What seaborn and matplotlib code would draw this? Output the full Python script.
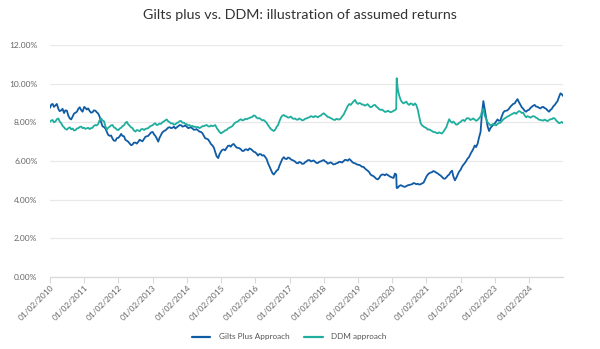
import pandas as pd
import numpy as np
import matplotlib
matplotlib.use("Agg")
import matplotlib.pyplot as plt
import matplotlib.dates as mdates
from matplotlib.ticker import FuncFormatter
import seaborn as sns

title = "Gilts plus vs. DDM: illustration of assumed returns"
series_names = ["Gilts Plus Approach", "DDM approach"]
colors = ["#0f5ba4", "#1fae9d"]
start_month = "2010-02-01"
x_end = "2025-01-28"

# readings at the start of each month (%), Feb 2010 .. Feb 2025
gilts = [8.75, 8.95, 8.88, 8.70, 8.62, 8.48, 8.60, 8.20, 8.30, 8.50,
         8.70, 8.62, 8.80, 8.66, 8.58, 8.52, 8.60, 8.45, 8.00, 7.75,
         7.50, 7.30, 7.15, 7.05, 7.20, 7.40, 7.28, 7.05, 6.90, 6.85,
         6.95, 7.00, 7.05, 7.15, 7.28, 7.40, 7.50, 7.30, 7.00, 7.35,
         7.55, 7.65, 7.75, 7.72, 7.68, 7.80, 7.85, 7.80, 7.76, 7.72,
         7.68, 7.62, 7.58, 7.50, 7.30, 7.15, 7.00, 6.80, 6.45, 6.15,
         6.50, 6.60, 6.68, 6.80, 6.85, 6.78, 6.68, 6.60, 6.52, 6.60,
         6.65, 6.55, 6.45, 6.28, 6.35, 6.30, 6.10, 5.72, 5.38, 5.40,
         5.55, 5.95, 6.20, 6.10, 6.15, 6.05, 5.97, 5.88, 5.92, 5.86,
         5.98, 6.05, 6.00, 5.96, 5.90, 5.98, 6.05, 5.95, 5.90, 5.88,
         5.84, 5.90, 5.95, 6.00, 6.05, 6.10, 5.95, 5.88, 5.80, 5.76,
         5.70, 5.55, 5.42, 5.25, 5.15, 5.05, 5.25, 5.30, 5.32, 5.22,
         5.15, 5.35, 4.62, 4.75, 4.68, 4.70, 4.76, 4.80, 4.84, 4.82,
         4.80, 4.88, 5.20, 5.36, 5.42, 5.45, 5.36, 5.25, 5.10, 5.15,
         5.30, 5.50, 5.00, 5.30, 5.55, 5.80, 6.00, 6.20, 6.50, 6.80,
         6.90, 7.50, 9.10, 8.20, 7.55, 7.80, 7.95, 8.15, 8.10, 8.50,
         8.60, 8.70, 8.88, 8.98, 9.20, 8.90, 8.70, 8.55, 8.65, 8.80,
         8.90, 8.80, 8.72, 8.80, 8.70, 8.55, 8.70, 8.90, 9.10, 9.50,
         9.35]

# readings at mid-month (%), Feb 2010 .. Jan 2025
gilts_mid = [8.92, 8.80, 8.95, 8.58, 8.70, 8.62, 8.35, 8.15, 8.45, 8.55,
             8.78, 8.55, 8.74, 8.72, 8.50, 8.62, 8.52, 8.30, 7.80, 7.68,
             7.35, 7.32, 7.05, 7.18, 7.28, 7.30, 7.10, 7.00, 6.82, 6.95,
             6.90, 7.10, 7.02, 7.25, 7.30, 7.48, 7.38, 7.18, 7.20, 7.48,
             7.58, 7.72, 7.70, 7.78, 7.74, 7.86, 7.78, 7.84, 7.70, 7.75,
             7.62, 7.65, 7.52, 7.45, 7.18, 7.12, 6.88, 6.70, 6.25, 6.35,
             6.58, 6.55, 6.78, 6.74, 6.88, 6.70, 6.66, 6.52, 6.60, 6.55,
             6.62, 6.48, 6.38, 6.36, 6.28, 6.22, 5.90, 5.55, 5.30, 5.50,
             5.75, 6.10, 6.12, 6.18, 6.08, 6.02, 5.90, 5.95, 5.85, 5.93,
             6.04, 5.98, 6.03, 5.90, 5.96, 6.02, 5.98, 5.86, 5.93, 5.82,
             5.88, 5.96, 5.92, 6.06, 6.02, 6.04, 5.90, 5.84, 5.80, 5.70,
             5.62, 5.50, 5.30, 5.22, 5.08, 5.12, 5.30, 5.26, 5.28, 5.18,
             5.12, 5.30, 4.70, 4.72, 4.66, 4.74, 4.78, 4.86, 4.80, 4.78,
             4.84, 5.02, 5.30, 5.40, 5.48, 5.40, 5.30, 5.18, 5.08, 5.24,
             5.42, 5.20, 5.12, 5.45, 5.70, 5.88, 6.12, 6.35, 6.62, 6.72,
             7.20, 8.40, 8.70, 7.80, 7.70, 7.88, 8.05, 8.08, 8.30, 8.58,
             8.62, 8.80, 8.95, 9.10, 9.05, 8.78, 8.60, 8.62, 8.74, 8.86,
             8.82, 8.76, 8.78, 8.74, 8.62, 8.64, 8.82, 9.00, 9.30, 9.45]

ddm = [8.03, 8.12, 8.05, 8.20, 7.95, 7.74, 7.62, 7.74, 7.68, 7.60,
       7.70, 7.78, 7.72, 7.69, 7.65, 7.72, 7.86, 7.92, 8.20, 8.05,
       7.62, 7.78, 7.86, 7.70, 7.60, 7.72, 7.85, 8.03, 7.82, 7.70,
       7.52, 7.58, 7.64, 7.60, 7.68, 7.78, 7.85, 7.95, 7.88, 7.92,
       8.05, 8.15, 8.00, 7.95, 7.90, 8.00, 8.07, 7.98, 7.90, 7.86,
       7.82, 7.78, 7.76, 7.74, 7.80, 7.86, 7.78, 7.80, 7.86, 7.60,
       7.43, 7.52, 7.60, 7.72, 7.80, 7.98, 8.05, 8.16, 8.12, 8.16,
       8.22, 8.28, 8.33, 8.20, 8.16, 8.12, 7.98, 7.75, 7.60, 7.62,
       7.86, 8.25, 8.38, 8.30, 8.26, 8.22, 8.20, 8.14, 8.16, 8.12,
       8.20, 8.26, 8.30, 8.33, 8.26, 8.35, 8.47, 8.35, 8.26, 8.18,
       8.12, 8.16, 8.20, 8.40, 8.70, 8.95, 9.00, 9.16, 8.95, 8.98,
       8.92, 8.90, 8.84, 8.81, 8.90, 8.75, 8.64, 8.60, 8.55, 8.56,
       8.55, 8.62, 9.70, 9.16, 8.98, 9.07, 8.90, 8.95, 8.98, 8.64,
       7.95, 7.78, 7.70, 7.64, 7.55, 7.50, 7.43, 7.45, 7.52, 7.75,
       8.16, 7.98, 7.95, 7.90, 8.02, 8.12, 8.18, 8.20, 8.16, 8.14,
       8.12, 8.30, 8.70, 8.16, 7.92, 7.88, 7.86, 7.92, 7.98, 8.15,
       8.25, 8.33, 8.42, 8.50, 8.52, 8.55, 8.50, 8.26, 8.28, 8.29,
       8.30, 8.20, 8.12, 8.09, 8.10, 8.12, 8.16, 8.20, 8.03, 7.98,
       7.95]

ddm_mid = [8.10, 8.00, 8.16, 8.05, 7.82, 7.66, 7.70, 7.64, 7.58, 7.68,
           7.76, 7.70, 7.66, 7.72, 7.70, 7.82, 7.84, 8.10, 8.10, 7.80,
           7.72, 7.84, 7.74, 7.62, 7.68, 7.80, 7.96, 7.90, 7.74, 7.58,
           7.60, 7.54, 7.66, 7.66, 7.70, 7.82, 7.92, 7.86, 7.94, 8.00,
           8.10, 8.06, 7.94, 7.88, 7.96, 8.06, 7.98, 7.92, 7.84, 7.80,
           7.76, 7.74, 7.70, 7.80, 7.84, 7.80, 7.84, 7.82, 7.72, 7.50,
           7.48, 7.58, 7.68, 7.75, 7.90, 8.02, 8.12, 8.10, 8.18, 8.20,
           8.26, 8.36, 8.24, 8.22, 8.10, 8.06, 7.86, 7.66, 7.55, 7.76,
           8.05, 8.34, 8.32, 8.24, 8.30, 8.18, 8.14, 8.20, 8.10, 8.18,
           8.24, 8.32, 8.26, 8.30, 8.32, 8.42, 8.40, 8.28, 8.22, 8.14,
           8.18, 8.14, 8.30, 8.55, 8.85, 8.90, 9.08, 9.02, 9.00, 8.92,
           8.86, 8.94, 8.78, 8.88, 8.82, 8.68, 8.66, 8.54, 8.60, 8.52,
           8.60, 8.70, 9.40, 9.05, 9.02, 8.96, 8.98, 8.88, 8.90, 8.30,
           7.85, 7.74, 7.62, 7.60, 7.50, 7.46, 7.48, 7.42, 7.62, 7.95,
           8.05, 8.04, 7.88, 7.98, 8.10, 8.06, 8.22, 8.12, 8.20, 8.08,
           8.20, 8.55, 8.35, 8.00, 7.84, 7.92, 7.84, 7.96, 8.06, 8.20,
           8.30, 8.38, 8.46, 8.44, 8.58, 8.48, 8.36, 8.32, 8.24, 8.32,
           8.24, 8.14, 8.10, 8.14, 8.06, 8.16, 8.22, 8.10, 7.96, 8.02]

# March 2020 spike reading
spike_date = "2020-03-20"
spike_gilts = 4.60
spike_ddm = 10.28

y_ticks = [0, 2, 4, 6, 8, 10, 12]

dates = pd.date_range(start_month, periods=len(gilts), freq="MS")
mid_dates = pd.date_range(start_month, periods=len(gilts_mid), freq="MS") + pd.Timedelta(days=14)
frames = [
    pd.DataFrame({"date": dates, series_names[0]: gilts, series_names[1]: ddm}),
    pd.DataFrame({"date": mid_dates, series_names[0]: gilts_mid, series_names[1]: ddm_mid}),
    pd.DataFrame({"date": [pd.Timestamp(spike_date)],
                  series_names[0]: [spike_gilts], series_names[1]: [spike_ddm]}),
]
wide = pd.concat(frames).sort_values("date").reset_index(drop=True)
long = wide.melt(id_vars="date", var_name="series", value_name="value")

sns.set_style("white")
plt.rcParams["font.family"] = ["Lato", "DejaVu Sans"]

fig = plt.figure(figsize=(6.0, 3.49), dpi=100)
ax = fig.add_axes([50 / 600, 1 - 277 / 349, 513 / 600, 232 / 349])

sns.lineplot(data=long, x="date", y="value", hue="series", hue_order=series_names,
             palette=colors, linewidth=1.3, ax=ax, legend=True)

ax.set_ylim(0, 12)
ax.set_xlim(pd.Timestamp(start_month), pd.Timestamp(x_end))
ax.set_yticks(y_ticks)
ax.yaxis.set_major_formatter(FuncFormatter(lambda v, p: f"{v:.2f}%"))
ax.yaxis.grid(True, color="#e8e8e8", linewidth=0.9)
ax.xaxis.grid(False)
for s in ["top", "right", "left"]:
    ax.spines[s].set_visible(False)
ax.spines["bottom"].set_color("#d9d9d9")
ax.spines["bottom"].set_linewidth(0.9)

ax.xaxis.set_major_locator(mdates.YearLocator(1, month=2, day=1))
ax.xaxis.set_major_formatter(mdates.DateFormatter("%d/%m/%Y"))
ax.tick_params(axis="x", which="major", length=4, width=0.8, color="#d9d9d9",
               labelsize=6, labelcolor="#666666", pad=1, direction="out", bottom=True)
ax.tick_params(axis="y", length=0, labelsize=6, labelcolor="#666666", pad=9)
for lab in ax.get_xticklabels():
    lab.set_rotation(45)
    lab.set_ha("right")
    lab.set_rotation_mode("anchor")

ax.set_xlabel("")
ax.set_ylabel("")

fig.suptitle(title, x=0.5, y=0.975, fontsize=10.3, color="#333333")

leg = ax.legend(loc="center", bbox_to_anchor=(0.466, -(337 - 277) / 232),
                bbox_transform=ax.transAxes, ncol=2, frameon=False, fontsize=5.9,
                handlelength=2.3, columnspacing=1.8, handletextpad=1.0)
for t in leg.get_texts():
    t.set_color("#555555")
for h in leg.get_lines():
    h.set_linewidth(1.6)

fig.savefig("out.png", dpi=100)
